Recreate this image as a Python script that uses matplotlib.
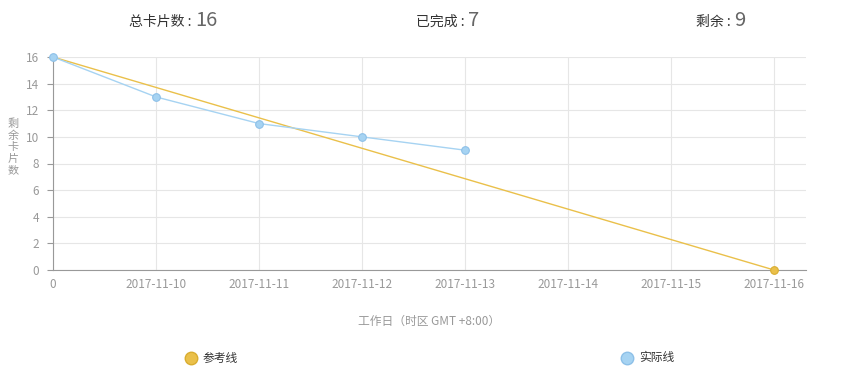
import matplotlib.pyplot as plt
from matplotlib.lines import Line2D

plt.rcParams['font.family'] = ['Noto Sans CJK SC', 'DejaVu Sans']

# data
categories = ['0', '2017-11-10', '2017-11-11', '2017-11-12', '2017-11-13',
              '2017-11-14', '2017-11-15', '2017-11-16']
reference = [16, 0]          # straight line from first to last day
reference_idx = [0, 7]
actual = [16, 13, 11, 10, 9]
total_cards, done_cards, left_cards = 16, 7, 9

yellow = '#eac04a'
blue = '#a6d3f2'
grey = '#999999'

fig = plt.figure(figsize=(8.56, 3.75), dpi=100)
ax = fig.add_axes([53 / 856, 1 - 270 / 375, (806 - 53) / 856, (270 - 57) / 375])

x_actual = list(range(len(actual)))
ax.plot(reference_idx, reference, color=yellow, linewidth=1, zorder=3)
ax.plot(reference_idx[-1], reference[-1], 'o', color=yellow, markersize=5.5,
        markeredgecolor='#d9ad30', markeredgewidth=0.8, clip_on=False, zorder=4)
ax.plot(x_actual, actual, color=blue, linewidth=1, marker='o', markersize=5.5,
        markeredgecolor='#8dc0e8', markeredgewidth=0.8, clip_on=False, zorder=5)

ax.set_xlim(0, 7.31)
ax.set_ylim(0, 16)
ax.set_xticks(range(len(categories)))
ax.set_xticklabels(categories)
ax.set_yticks(range(0, 17, 2))
ax.grid(True, color='#e6e6e6', linewidth=0.8)
ax.set_axisbelow(True)
for side in ['top', 'right']:
    ax.spines[side].set_visible(False)
for side in ['left', 'bottom']:
    ax.spines[side].set_color(grey)
    ax.spines[side].set_linewidth(0.8)
ax.tick_params(colors=grey, labelsize=8.5, length=4, width=0.8, pad=6)
ax.tick_params(axis='x', length=0)

ax.set_xlabel('工作日（时区 GMT +8:00）', color=grey, fontsize=8.5, labelpad=17)

# vertical y label, one character per line
for i, ch in enumerate('剩余卡片数'):
    fig.text(13 / 856, 1 - (124 + 11.5 * i) / 375, ch, color=grey, fontsize=8,
             ha='center', va='center')

# summary header
for cx, label, val in [(195, '总卡片数 : ', total_cards), (468, '已完成 : ', done_cards),
                       (734, '剩余 : ', left_cards)]:
    fig.text(cx / 856, 1 - 22 / 375, label, fontsize=10, color='#333333',
             ha='right', va='center')
    fig.text(cx / 856, 1 - 21 / 375, str(val), fontsize=14.5, color='#666666',
             ha='left', va='center')

# legend
for lx, name, col, edge in [(191, '参考线', yellow, '#d9ad30'), (627, '实际线', blue, '#8dc0e8')]:
    fig.add_artist(Line2D([lx / 856], [1 - 358 / 375], marker='o', markersize=9,
                          color=col, markeredgecolor=edge, transform=fig.transFigure))
    fig.text((lx + 12) / 856, 1 - 358 / 375, name, fontsize=8.5, color='#333333', va='center')

fig.savefig('out.png', dpi=100)
